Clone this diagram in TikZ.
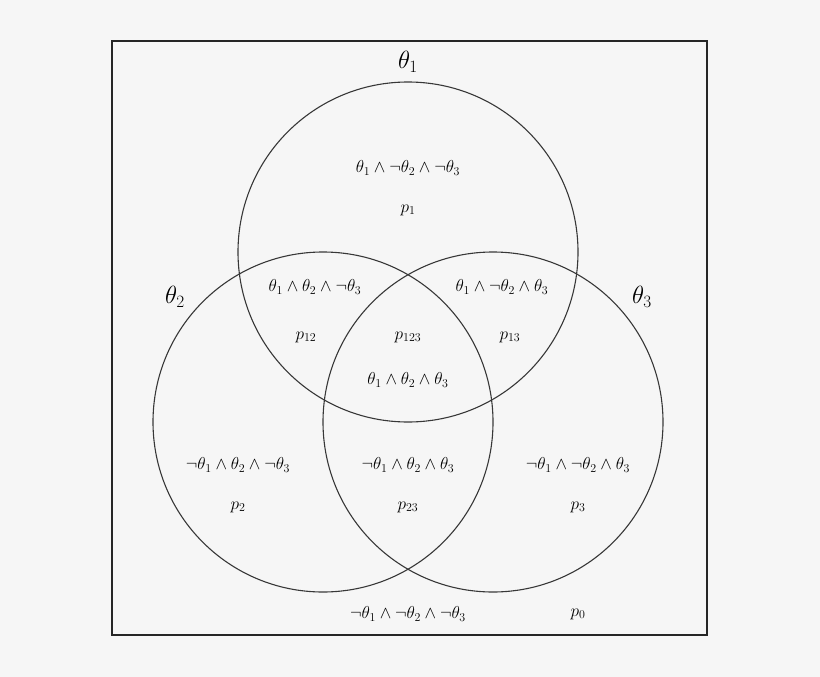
\documentclass[tikz,border=0pt]{standalone}
\begin{document}
\begin{tikzpicture}[x=1pt,y=-1pt,
  circ/.style={draw=black!78,line width=1.1pt},
  big/.style={font=\fontsize{24}{28}\selectfont,inner sep=0pt},
  lab/.style={font=\fontsize{17}{20}\selectfont,inner sep=0pt}]
\fill[black!3.5] (0,0) rectangle (820,677);
\useasboundingbox (0,0) rectangle (820,677);
\draw[black!85,line width=1.3pt] (112,41) rectangle (707,635);
\node[circle,circ,minimum size=340pt,inner sep=0pt] (c1) at (408,252) {};
\node[circle,circ,minimum size=340pt,inner sep=0pt] (c2) at (323,422) {};
\node[circle,circ,minimum size=340pt,inner sep=0pt] (c3) at (493,422) {};
\node[big] (t1) at (408,62) {$\theta_1$};
\node[big] (t2) at (175,297) {$\theta_2$};
\node[big] (t3) at (642,297) {$\theta_3$};
\node[lab] (a1) at (408,168) {$\theta_1\wedge\neg\theta_2\wedge\neg\theta_3$};
\node[lab] (p1) at (408,210) {$p_1$};
\node[lab] (a12) at (315,287) {$\theta_1\wedge\theta_2\wedge\neg\theta_3$};
\node[lab] (p12) at (306,337) {$p_{12}$};
\node[lab] (a13) at (502,287) {$\theta_1\wedge\neg\theta_2\wedge\theta_3$};
\node[lab] (p13) at (510,337) {$p_{13}$};
\node[lab] (p123) at (408,337) {$p_{123}$};
\node[lab] (a123) at (408,380) {$\theta_1\wedge\theta_2\wedge\theta_3$};
\node[lab] (a2) at (238,465) {$\neg\theta_1\wedge\theta_2\wedge\neg\theta_3$};
\node[lab] (p2) at (238,507) {$p_2$};
\node[lab] (a23) at (408,465) {$\neg\theta_1\wedge\theta_2\wedge\theta_3$};
\node[lab] (p23) at (408,507) {$p_{23}$};
\node[lab] (a3) at (578,465) {$\neg\theta_1\wedge\neg\theta_2\wedge\theta_3$};
\node[lab] (p3) at (578,507) {$p_3$};
\node[lab] (a0) at (408,614) {$\neg\theta_1\wedge\neg\theta_2\wedge\neg\theta_3$};
\node[lab] (p0) at (578,614) {$p_0$};
\end{tikzpicture}
\end{document}
